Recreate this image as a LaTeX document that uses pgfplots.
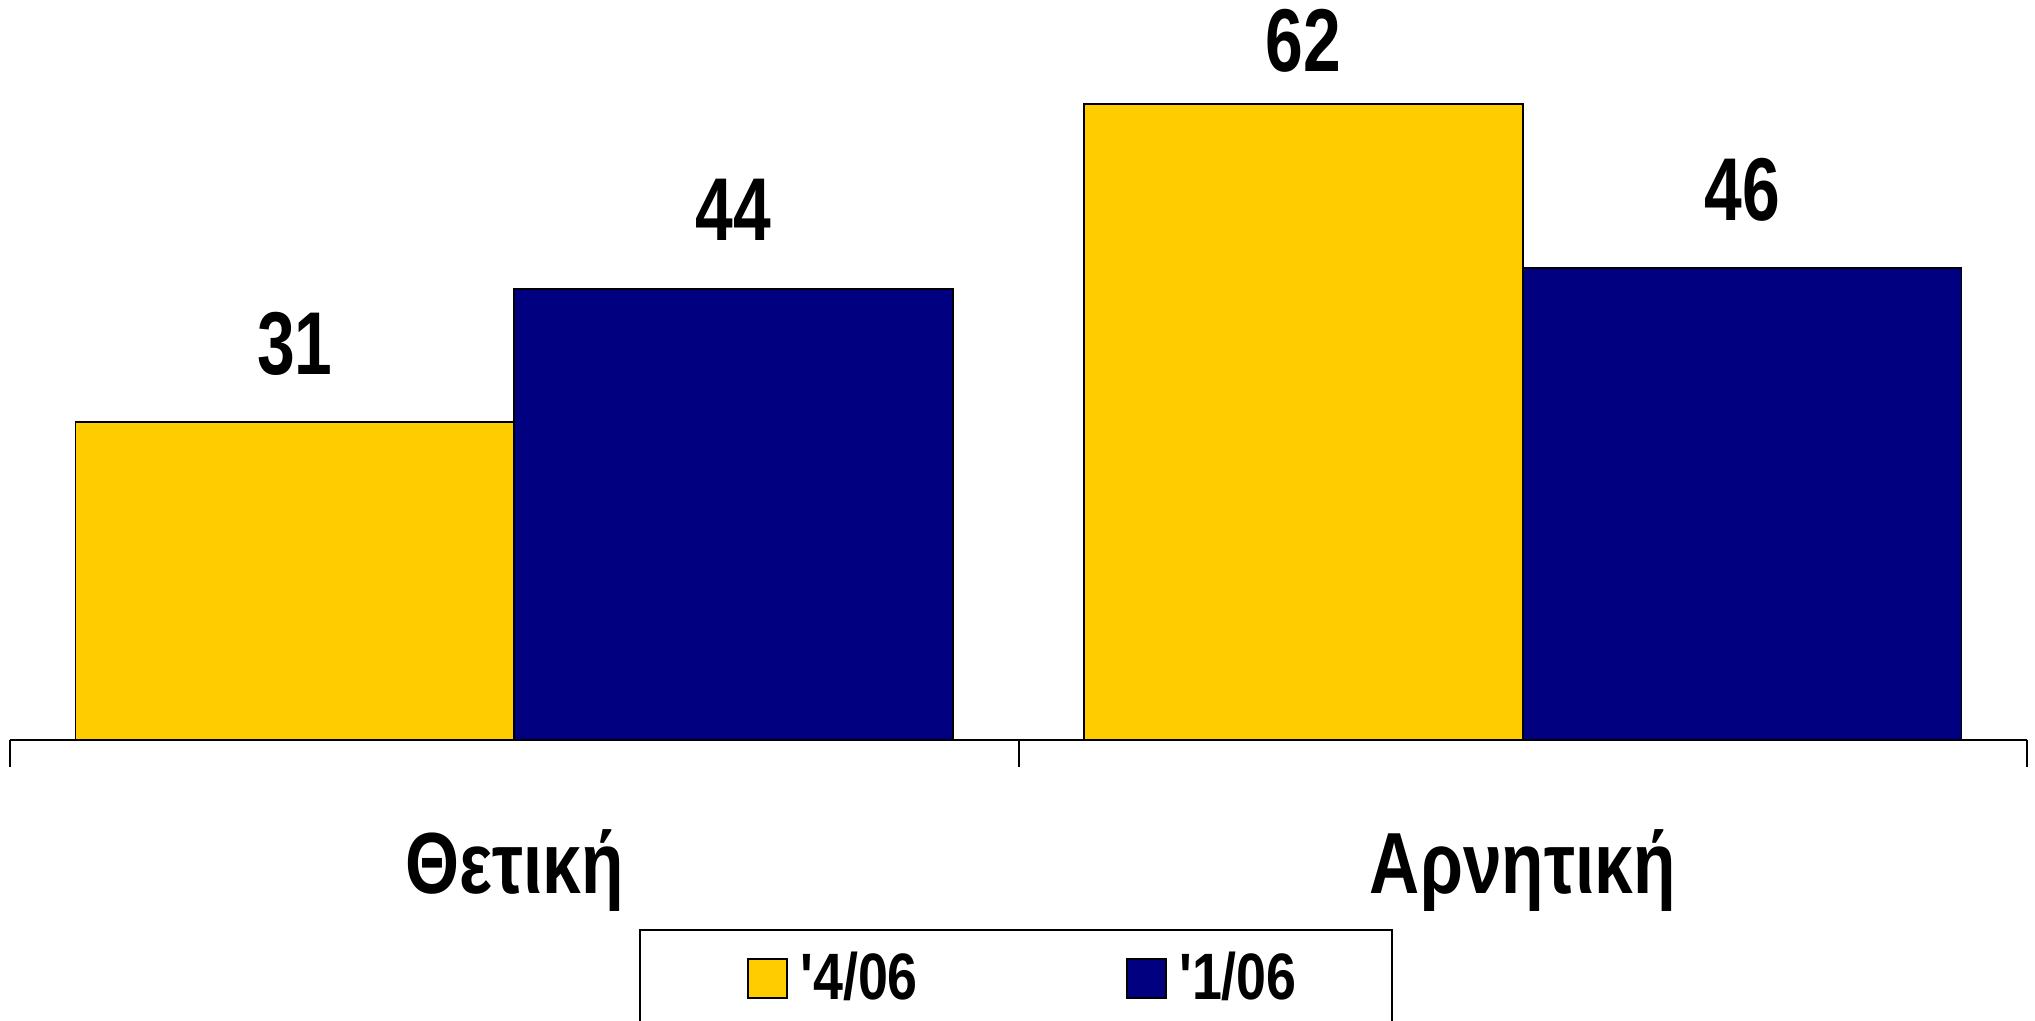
\documentclass[border=0pt]{standalone}
\usepackage{pgfplots}
\pgfplotsset{compat=1.18}
\usepackage{fontspec}
\setmainfont{Liberation Sans}[FakeStretch=0.8]
\newfontfamily\numfont{Liberation Sans}[FakeStretch=0.76]
\newfontfamily\legfont{Liberation Sans}[FakeStretch=0.82, Ligatures=TeXOff]
\definecolor{cyel}{HTML}{FFCC00}
\definecolor{cnavy}{HTML}{000080}
\begin{document}
\begin{tikzpicture}
\path[use as bounding box] (-2.5pt,-70pt) rectangle (506.25pt,185pt);
\begin{axis}[
  at={(0pt,0pt)}, anchor=south west,
  scale only axis, width=504.25pt, height=185pt,
  xmin=-0.5, xmax=1.5, ymin=0, ymax=72.15,
  axis x line=bottom, axis y line=none,
  axis line style={-, black, line width=0.5pt},
  xtick={0,1}, xticklabels={Θετική, Αρνητική},
  major tick length=0pt,
  minor xtick={-0.5,0.5,1.5}, minor tick length=6.75pt, tick align=outside,
  tick style={black, line width=0.5pt},
  xticklabel style={anchor=base, yshift=-38.25pt, font=\fontsize{21.7}{26}\selectfont\bfseries},
  /pgf/number format/assume math mode=true,
  ybar=0pt, bar width=109.7pt,
  nodes near coords,
  visualization depends on={\thisrow{sh} \as \lsh},
  nodes near coords style={anchor=base, yshift=\lsh pt, black, font=\fontsize{22.3}{26}\selectfont\bfseries\numfont},
  clip=false,
  legend columns=2,
  legend style={at={(rel axis cs:0.4988,0)}, anchor=north, yshift=-47.25pt,
    draw=black, line width=0.5pt, font=\fontsize{16.4}{20}\selectfont\bfseries\legfont,
    inner xsep=21.8pt, inner ysep=3.4pt,
    /tikz/every even column/.append style={column sep=45.1pt}},
  legend image code/.code={%
    \path[draw=none, fill=none] (-5.2pt,-14pt) rectangle (11.05pt,4.875pt);
    \draw[#1, line width=0.4pt] (0pt,-4.875pt) rectangle (9.75pt,4.875pt);},
]
\addplot[fill=cyel, draw=black, line width=0.4pt] table[x=x, y=y] {
x y  sh
0 31 12
1 62 8.1
};
\addplot[fill=cnavy, draw=black, line width=0.4pt] table[x=x, y=y] {
x y  sh
0 44 12
1 46 12
};
\legend{'4/06, '1/06}
\end{axis}
\end{tikzpicture}
\end{document}
